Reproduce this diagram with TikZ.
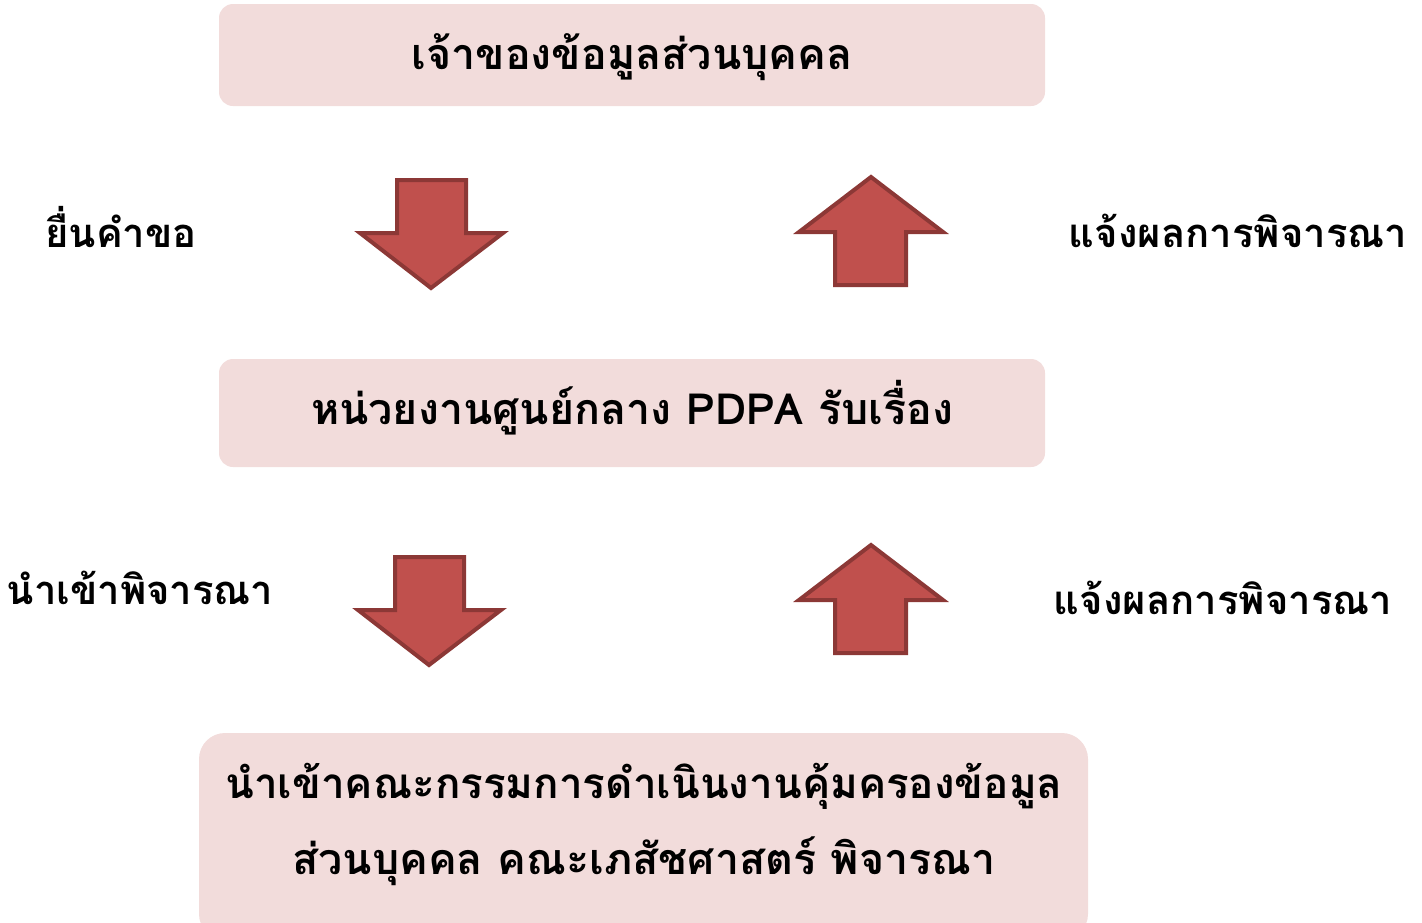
\documentclass[tikz,border=0pt]{standalone}
\usepackage{fontspec}
\newfontfamily\thaifont[Script=Thai]{Loma}
\definecolor{boxfill}{HTML}{F2DCDB}
\definecolor{arrfill}{HTML}{C0504D}
\definecolor{arrline}{HTML}{8C3836}
\begin{document}
\begin{tikzpicture}[x=1pt,y=-1pt,
  box/.style={fill=boxfill,draw=none,rounded corners=14pt},
  lbl/.style={font=\thaifont\bfseries\fontsize{40}{44}\selectfont,inner sep=0pt},
  btxt/.style={font=\thaifont\bfseries\fontsize{43}{47}\selectfont,inner sep=0pt},
  blk/.style={fill=arrfill,draw=arrline,line width=4pt,line join=miter}]
\useasboundingbox (0,0) rectangle (1422,922);
% boxes
\fill[box] (219,4) rectangle (1045,106);
\fill[box] (219,359) rectangle (1045,467);
\fill[box,rounded corners=26pt] (199,733) rectangle (1088,940);
% box texts
\node[btxt] (t1) at (632,57) {เจ้าของข้อมูลส่วนบุคคล};
\node[btxt] (t2) at (632,408) {หน่วยงานศูนย์กลาง PDPA รับเรื่อง};
\node[btxt,font=\thaifont\bfseries\fontsize{42.2}{46}\selectfont] (t3a) at (644,786) {นำเข้าคณะกรรมการดำเนินงานคุ้มครองข้อมูล};
\node[btxt] (t3b) at (644,861) {ส่วนบุคคล คณะเภสัชศาสตร์ พิจารณา};
% arrows
\draw[blk] (397,180) -- (466,180) -- (466,233) -- (503,233) -- (431,288) -- (360,233) -- (397,233) -- cycle;
\draw[blk] (871,177) -- (943,232) -- (906,232) -- (906,285) -- (835,285) -- (835,232) -- (799,232) -- cycle;
\draw[blk] (395,557) -- (464,557) -- (464,610) -- (501,610) -- (429,665) -- (358,610) -- (395,610) -- cycle;
\draw[blk] (871,545) -- (943,600) -- (906,600) -- (906,653) -- (835,653) -- (835,600) -- (799,600) -- cycle;
% labels
\node[lbl] (l1) at (121,227) {ยื่นคำขอ};
\node[lbl] (l2) at (1238,231) {แจ้งผลการพิจารณา};
\node[lbl] (l3) at (140,588) {นำเข้าพิจารณา};
\node[lbl] (l4) at (1223,598) {แจ้งผลการพิจารณา};
\end{tikzpicture}
\end{document}
